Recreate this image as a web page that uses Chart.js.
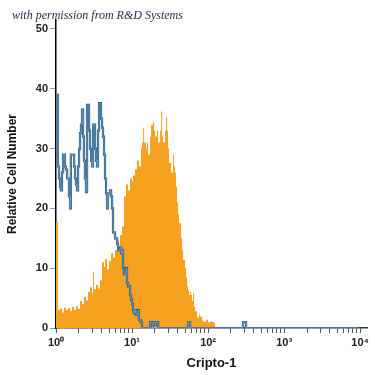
<!DOCTYPE html>
<html>
<head>
<meta charset="utf-8">
<script src="https://cdn.jsdelivr.net/npm/chart.js@4/dist/chart.umd.min.js"></script>
<style>
  html, body { margin: 0; padding: 0; background: #fff; }
  #wrap { width: 375px; height: 375px; }
</style>
</head>
<body>
<div id="wrap"><canvas id="flowChart" width="375" height="375"></canvas></div>
<script>
// Data (x = fluorescence, y = relative cell number)
const orangeX = [1.0, 1.06, 1.13, 1.2, 1.27, 1.35, 1.44, 1.53, 1.62, 1.73, 1.83, 1.95, 2.07, 2.2, 2.33, 2.48, 2.64, 2.8, 2.98, 3.07, 3.16, 3.36, 3.57, 3.79, 4.03, 4.28, 4.41, 4.69, 4.98, 5.3, 5.62, 5.97, 6.35, 6.74, 6.95, 7.38, 7.84, 8.33, 8.86, 9.41, 10, 10.3, 10.9, 11.6, 12.3, 13.1, 13.5, 14, 14.4, 15.3, 15.7, 16.2, 17.3, 17.8, 18.9, 19.5, 20.1, 21.3, 22, 23.4, 24.1, 24.9, 25.6, 27.2, 28, 28.9, 29.8, 30.7, 32.6, 34.6, 35.7, 36.8, 37.9, 39.1, 40.3, 41.5, 44.2, 45.6, 46.9, 49.8, 51.4, 52.9, 54.6, 56.3, 58, 59.8, 61.6, 63.5, 65.5, 67.5, 71.6, 76, 78.5, 83.3, 88.5, 94, 99.5, 105.7, 113, 120, 124];
const orangeY = [17.7, 3.0, 3.2, 2.6, 3.4, 3.0, 3.3, 2.8, 3.5, 3.0, 3.6, 3.2, 4.5, 4.0, 5.2, 4.6, 6.0, 6.8, 5.8, 9.4, 6.5, 7.2, 6.6, 8.0, 11.0, 10.2, 11.5, 9.8, 11.2, 12.5, 11.8, 13.0, 14.8, 13.5, 15.5, 17.0, 22.0, 24.0, 23.0, 25.0, 24.5, 25.5, 26.5, 28.0, 27.0, 30.0, 31.0, 33.5, 31.0, 30.0, 31.0, 29.0, 32.0, 34.0, 34.5, 33.0, 32.0, 33.0, 31.0, 33.0, 36.2, 32.0, 31.0, 33.0, 35.2, 33.0, 30.0, 27.6, 26.0, 29.0, 27.0, 26.0, 23.6, 21.0, 19.0, 17.5, 15.0, 13.0, 11.4, 10.0, 8.5, 7.0, 6.3, 5.5, 6.0, 5.5, 4.5, 5.8, 3.5, 2.8, 1.8, 2.2, 1.9, 1.2, 1.0, 1.4, 0.9, 1.1, 1.0, 0.8, 0];

const blueX = [1.0, 1.06, 1.095, 1.13, 1.16, 1.2, 1.24, 1.31, 1.35, 1.4, 1.48, 1.53, 1.57, 1.73, 1.78, 1.83, 1.89, 1.95, 2.01, 2.07, 2.13, 2.2, 2.27, 2.33, 2.4, 2.48, 2.56, 2.72, 2.8, 2.89, 2.98, 3.07, 3.26, 3.36, 3.46, 3.57, 3.68, 3.91, 4.03, 4.15, 4.28, 4.41, 4.55, 4.69, 4.83, 5.14, 5.3, 5.46, 5.62, 5.97, 6.35, 6.55, 6.95, 7.16, 7.38, 7.61, 7.84, 8.33, 8.59, 8.86, 9.41, 9.7, 10, 10.3, 10.6, 10.9, 11.3, 12, 12.3, 13.1, 13.5, 16.7, 17.3, 18.3, 18.9, 20.1, 20.7, 22, 52.9, 55, 58, 289, 316, 9500];
const blueY = [39, 27, 25, 23.5, 23, 26, 29, 27, 26.5, 25, 22, 20, 29, 27, 25, 24, 23, 27, 30, 32.6, 34, 36.5, 32, 28, 25, 22.7, 37.3, 33, 30, 28, 27, 34, 30, 28, 27, 33, 37.6, 35, 33.5, 32, 29, 25, 22.5, 20, 22.5, 23, 22, 20, 16, 15, 14, 13, 13.5, 12.5, 13, 10, 9, 10, 7.5, 7, 5.5, 4.7, 4, 3, 2.5, 3, 2.2, 3, 1.3, 1, 0, 0, 1, 0.3, 1, 0.5, 1, 0, 0, 1, 0, 1, 0, 0];

const xMajorTicks = [1, 10, 100, 1000, 10000];
const xTickLabels = ['10⁰', '10¹', '10²', '10³', '10⁴'];
const yTicks = [0, 10, 20, 30, 40, 50];

const toPoints = (xs, ys) => xs.map((x, i) => ({ x: x, y: ys[i] }));
const bluePoints = toPoints(blueX, blueY);

// minor ticks 2..9 in every decade
const xAllTicks = [];
xMajorTicks.forEach((d, i) => {
  xAllTicks.push(d);
  if (i < xMajorTicks.length - 1) {
    for (let m = 2; m <= 9; m++) xAllTicks.push(d * m);
  }
});

// Credit line in the top left corner
const creditText = {
  id: 'creditText',
  afterDraw(chart) {
    const c = chart.ctx;
    c.save();
    c.font = 'italic 12px "Liberation Serif", serif';
    c.fillStyle = '#1c2b4a';
    c.textBaseline = 'alphabetic';
    c.fillText('with permission from R&D Systems', 12, 19);
    c.restore();
  }
};

const ctx = document.getElementById('flowChart').getContext('2d');
new Chart(ctx, {
  type: 'line',
  data: {
    datasets: [
      {
        label: 'isotype light',
        data: bluePoints,
        stepped: 'before',
        borderColor: '#86b6d8',
        borderWidth: 0.8,
        pointRadius: 0,
        fill: false,
        order: 0
      },
      {
        label: 'isotype',
        data: bluePoints,
        stepped: 'before',
        borderColor: '#23557d',
        borderWidth: 2.2,
        pointRadius: 0,
        fill: false,
        order: 1
      },
      {
        label: 'Cripto-1',
        data: toPoints(orangeX, orangeY),
        stepped: 'before',
        borderWidth: 0,
        borderColor: 'rgba(0,0,0,0)',
        backgroundColor: '#f6a11f',
        pointRadius: 0,
        fill: 'origin',
        order: 2
      }
    ]
  },
  options: {
    responsive: false,
    animation: false,
    devicePixelRatio: 1,
    layout: { padding: { top: 20, right: 8, left: 0, bottom: 0 } },
    plugins: { legend: { display: false }, tooltip: { enabled: false } },
    scales: {
      x: {
        type: 'logarithmic',
        min: 1,
        max: 12300,
        afterBuildTicks: (scale) => { scale.ticks = xAllTicks.map(v => ({ value: v })); },
        afterFit: (scale) => { scale.height = 47; },
        ticks: {
          autoSkip: false,
          maxRotation: 0,
          padding: 3,
          color: '#222',
          font: { family: '"Liberation Sans", Arial, sans-serif', size: 11, weight: 'bold' },
          callback: (v) => {
            const i = xMajorTicks.indexOf(v);
            return i >= 0 ? xTickLabels[i] : '';
          }
        },
        grid: { drawOnChartArea: false, drawTicks: true, tickLength: 5, color: '#556' },
        border: { display: true, color: '#2b3440', width: 1.5 },
        title: {
          display: true,
          text: 'Cripto-1',
          color: '#111',
          font: { family: '"Liberation Sans", Arial, sans-serif', size: 13, weight: 'bold' },
          padding: { top: 0, bottom: 4 }
        }
      },
      y: {
        min: 0,
        max: 51.5,
        afterBuildTicks: (scale) => { scale.ticks = yTicks.map(v => ({ value: v })); },
        afterFit: (scale) => { scale.width = 56; },
        ticks: {
          padding: 2,
          color: '#222',
          font: { family: '"Liberation Sans", Arial, sans-serif', size: 11, weight: 'bold' }
        },
        grid: { drawOnChartArea: false, drawTicks: true, tickLength: 6, color: '#999' },
        border: { display: true, color: '#000', width: 1.5 },
        title: {
          display: true,
          text: 'Relative Cell Number',
          color: '#111',
          font: { family: '"Liberation Sans", Arial, sans-serif', size: 12, weight: 'bold' },
          padding: { top: 5, bottom: 0 }
        }
      }
    }
  },
  plugins: [creditText]
});
</script>
</body>
</html>
